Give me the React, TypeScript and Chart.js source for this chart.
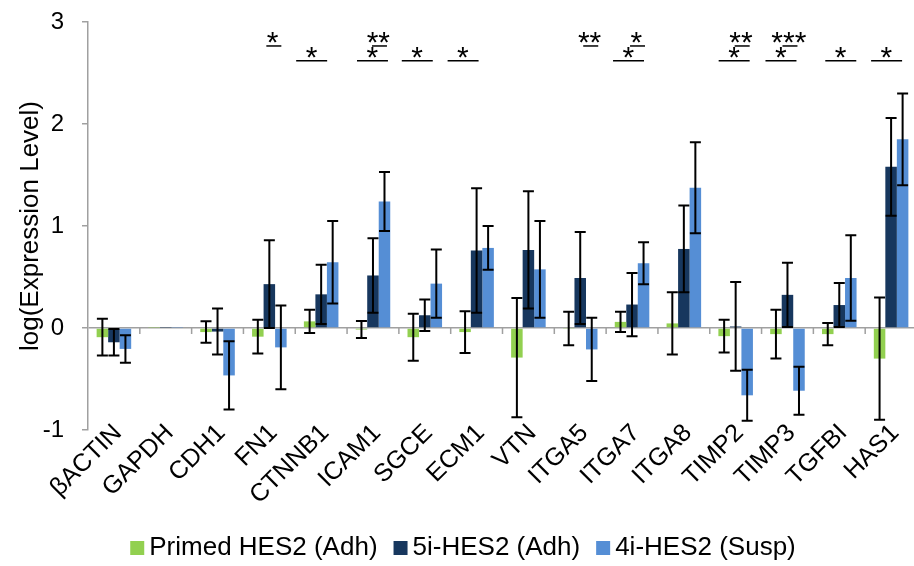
import React, { useEffect, useRef } from 'react';
import { Chart, registerables } from 'chart.js';

Chart.register(...registerables);

// ---------- data ----------
const categories = ['βACTIN', 'GAPDH', 'CDH1', 'FN1', 'CTNNB1', 'ICAM1', 'SGCE', 'ECM1', 'VTN', 'ITGA5', 'ITGA7', 'ITGA8', 'TIMP2', 'TIMP3', 'TGFBI', 'HAS1'];
const seriesNames = ['Primed HES2 (Adh)', '5i-HES2 (Adh)', '4i-HES2 (Susp)'];

const primedValues = [-0.09, 0.004, -0.04, -0.085, 0.065, -0.015, -0.09, -0.04, -0.29, -0.005, 0.06, 0.045, -0.08, -0.06, -0.06, -0.3];
const primedErrors = [0.18, 0, 0.105, 0.165, 0.115, 0.083, 0.23, 0.205, 0.585, 0.165, 0.1, 0.305, 0.16, 0.24, 0.11, 0.6];

const naive5iValues = [-0.14, 0.004, -0.035, 0.43, 0.33, 0.515, 0.125, 0.76, 0.765, 0.49, 0.23, 0.775, 0.015, 0.325, 0.225, 1.58];
const naive5iErrors = [0.13, 0, 0.225, 0.43, 0.29, 0.365, 0.155, 0.61, 0.575, 0.45, 0.31, 0.425, 0.435, 0.315, 0.215, 0.48];

const naive4iValues = [-0.205, 0.004, -0.465, -0.19, 0.645, 1.24, 0.435, 0.785, 0.575, -0.21, 0.635, 1.375, -0.66, -0.615, 0.49, 1.85];
const naive4iErrors = [0.135, 0, 0.335, 0.41, 0.405, 0.29, 0.335, 0.215, 0.475, 0.31, 0.205, 0.445, 0.25, 0.235, 0.42, 0.45];

const yTicks = [-1, 0, 1, 2, 3];
const yTitle = 'log(Expression Level)';

// significance annotations
const sigCategories = ['FN1', 'CTNNB1', 'ICAM1', 'ICAM1', 'SGCE', 'ECM1', 'ITGA5', 'ITGA7', 'ITGA7', 'TIMP2', 'TIMP2', 'TIMP3', 'TIMP3', 'TGFBI', 'HAS1'];
const sigTiers = ['upper', 'lower', 'upper', 'lower', 'lower', 'lower', 'upper', 'upper', 'lower', 'upper', 'lower', 'upper', 'lower', 'lower', 'lower'];
const sigTexts = ['*', '*', '**', '*', '*', '*', '**', '*', '*', '**', '*', '***', '*', '*', '*'];
const sigNudges = [-3, -25, -1, -16, -23, -29, 3, -2, -19, -1, -17, -5, -22, -14, -20];

// ---------- styles ----------
const FONT = '"Liberation Sans", Arial, Helvetica, sans-serif';
const AXIS_GREY = '#A0A0A0';
const COLORS = ['#92D050', '#17375E', '#558ED5'];

const errorBarPlugin = {
  id: 'errorBars',
  afterDatasetsDraw(chart: any) {
    const ctx = chart.ctx;
    const y = chart.scales.y;
    chart.data.datasets.forEach((ds: any, i: number) => {
      const meta = chart.getDatasetMeta(i);
      meta.data.forEach((bar: any, j: number) => {
        const e = ds.errors[j];
        if (!e) return;
        const v = ds.data[j];
        const yTop = y.getPixelForValue(v + e);
        const yBot = y.getPixelForValue(v - e);
        const x = bar.x;
        ctx.save();
        ctx.strokeStyle = '#000';
        ctx.lineWidth = 2;
        ctx.beginPath();
        ctx.moveTo(x, yTop);
        ctx.lineTo(x, yBot);
        ctx.moveTo(x - 5.5, yTop);
        ctx.lineTo(x + 5.5, yTop);
        ctx.moveTo(x - 5.5, yBot);
        ctx.lineTo(x + 5.5, yBot);
        ctx.stroke();
        ctx.restore();
      });
    });
  },
};

const zeroTickPlugin = {
  id: 'zeroTicks',
  beforeDatasetsDraw(chart: any) {
    const ctx = chart.ctx;
    const x = chart.scales.x;
    const y = chart.scales.y;
    const y0 = y.getPixelForValue(0);
    const w = x.getPixelForValue(1) - x.getPixelForValue(0);
    ctx.save();
    ctx.strokeStyle = AXIS_GREY;
    ctx.lineWidth = 1.5;
    ctx.beginPath();
    for (let k = 1; k <= categories.length; k++) {
      const xb = x.getPixelForValue(k) - w / 2;
      ctx.moveTo(xb, y0);
      ctx.lineTo(xb, y0 + 6);
    }
    ctx.stroke();
    ctx.restore();
  },
};

const xLabelPlugin = {
  id: 'xLabels',
  afterDraw(chart: any) {
    const ctx = chart.ctx;
    const x = chart.scales.x;
    const base = chart.chartArea.bottom;
    ctx.save();
    ctx.font = `25px ${FONT}`;
    ctx.fillStyle = '#000';
    ctx.textAlign = 'right';
    ctx.textBaseline = 'middle';
    (chart.data.labels as string[]).forEach((lab, i) => {
      const cx = x.getPixelForValue(i);
      ctx.save();
      ctx.translate(cx + 4, base - 1);
      ctx.rotate(-Math.PI / 4);
      ctx.fillText(lab, 0, 0);
      ctx.restore();
    });
    ctx.restore();
  },
};

function drawCenteredText(ctx: any, text: string, cx: number, cy: number) {
  const m = ctx.measureText(text);
  const dx = (m.actualBoundingBoxRight - m.actualBoundingBoxLeft) / 2;
  const dy = (m.actualBoundingBoxDescent - m.actualBoundingBoxAscent) / 2;
  ctx.fillText(text, cx - dx, cy - dy);
}

const sigPlugin = {
  id: 'significance',
  afterDraw(chart: any) {
    const ctx = chart.ctx;
    const x = chart.scales.x;
    const y = chart.scales.y;
    ctx.save();
    ctx.fillStyle = '#000';
    ctx.strokeStyle = '#000';
    ctx.lineWidth = 1.5;
    ctx.textAlign = 'left';
    ctx.textBaseline = 'alphabetic';
    ctx.font = `30px ${FONT}`;
    sigCategories.forEach((cat, i) => {
      const idx = categories.indexOf(cat);
      const cx = x.getPixelForValue(idx);
      const upper = sigTiers[i] === 'upper';
      const lineY = y.getPixelForValue(upper ? 2.765 : 2.62);
      const lineLen = upper ? 15 : 31;
      const x0 = cx + sigNudges[i];
      ctx.beginPath();
      ctx.moveTo(x0, lineY);
      ctx.lineTo(x0 + lineLen, lineY);
      ctx.stroke();
      const tx = x0 + (upper ? 6.5 : 15.5);
      drawCenteredText(ctx, sigTexts[i], tx, lineY - 8);
    });
    ctx.restore();
  },
};

const legendPlugin = {
  id: 'customLegend',
  afterDraw(chart: any) {
    const ctx = chart.ctx;
    ctx.save();
    ctx.font = `26px ${FONT}`;
    ctx.textBaseline = 'middle';
    ctx.textAlign = 'left';
    const box = 14, gap = 5, itemGap = 16;
    const items = chart.data.datasets.map((ds: any) => ({ label: ds.label, color: ds.backgroundColor, w: ctx.measureText(ds.label).width }));
    let total = 0;
    items.forEach((it: any, i: number) => { total += box + gap + it.w + (i < items.length - 1 ? itemGap : 0); });
    let px = 463 - total / 2;
    const cy = 548;
    items.forEach((it: any) => {
      ctx.fillStyle = it.color;
      ctx.fillRect(px, cy - box / 2, box, box);
      px += box + gap;
      ctx.fillStyle = '#000';
      ctx.fillText(it.label, px, cy);
      px += it.w + itemGap;
    });
    ctx.restore();
  },
};

export default function App() {
  const ref = useRef<HTMLCanvasElement | null>(null);

  useEffect(() => {
    document.body.style.margin = '0';
    const canvas = ref.current;
    if (!canvas) return;
    Chart.defaults.font.family = FONT;
    Chart.defaults.color = '#000';
    const seriesValues = [primedValues, naive5iValues, naive4iValues];
    const seriesErrors = [primedErrors, naive5iErrors, naive4iErrors];
    const chart = new Chart(canvas, {
      type: 'bar',
      data: {
        labels: categories,
        datasets: seriesNames.map((name, i) => ({
          label: name,
          data: seriesValues[i],
          errors: seriesErrors[i],
          backgroundColor: COLORS[i],
          borderWidth: 0,
          categoryPercentage: 0.667,
          barPercentage: 1,
        })) as any,
      },
      options: {
        responsive: false,
        animation: false,
        devicePixelRatio: 1,
        layout: { padding: { left: 0, top: 22, right: 3, bottom: 0 } },
        plugins: {
          legend: { display: false },
          tooltip: { enabled: false },
        },
        scales: {
          x: {
            grid: { display: false },
            border: { display: false },
            ticks: { display: false },
            afterFit: (s: any) => { s.height = 136; s.paddingLeft = 0; s.paddingRight = 0; },
          },
          y: {
            min: -1,
            max: 3,
            afterBuildTicks: (s: any) => { s.ticks = yTicks.map((v) => ({ value: v })); },
            ticks: { font: { size: 24 }, color: '#000', padding: 18 },
            grid: {
              color: (c: any) => (c.tick && c.tick.value === 0 ? AXIS_GREY : 'rgba(0,0,0,0)'),
              tickColor: AXIS_GREY,
              tickLength: 6,
              lineWidth: 1.5,
            },
            border: { color: AXIS_GREY, width: 1.5 },
            title: {
              display: true,
              text: yTitle,
              font: { size: 26 },
              color: '#000',
              padding: { top: 15, bottom: 0 },
            },
            afterFit: (s: any) => { s.width = 88; s.paddingTop = 0; s.paddingBottom = 0; },
          },
        },
      } as any,
      plugins: [zeroTickPlugin, errorBarPlugin, xLabelPlugin, sigPlugin, legendPlugin],
    });
    return () => chart.destroy();
  }, []);

  return (
    <div style={{ position: 'fixed', left: 0, top: 0, width: 914, height: 566, overflow: 'hidden', background: '#fff' }}>
      <canvas ref={ref} width={920} height={566} style={{ width: 920, height: 566, display: 'block' }} />
    </div>
  );
}
